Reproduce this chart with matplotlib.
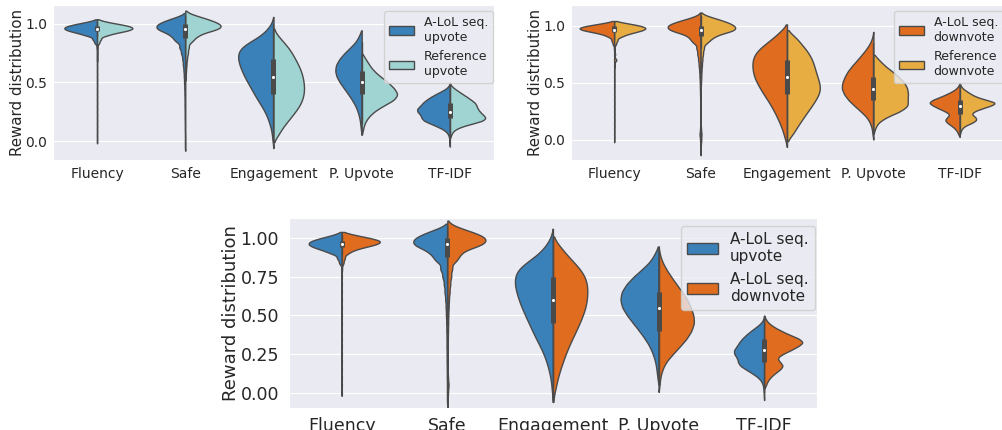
import numpy as np
import matplotlib.pyplot as plt
import seaborn as sns
from matplotlib.patches import Patch

sns.set_style("darkgrid")
plt.rcParams["font.family"] = ["DejaVu Sans"]

METRICS = ["Fluency", "Safe", "Engagement", "P. Upvote", "TF-IDF"]

# reward values at which the responses were counted (one grid per metric)
FLUENCY_VALUES = [0.0, 0.05, 0.1, 0.15, 0.2, 0.25, 0.3, 0.35, 0.4, 0.45, 0.5,
                  0.55, 0.6, 0.65, 0.7, 0.75, 0.8,
                  0.84, 0.87, 0.9, 0.92, 0.94, 0.96, 0.98, 1.0, 1.02]
SAFE_VALUES = [-0.1, -0.05, 0.0, 0.05, 0.1, 0.15, 0.2, 0.25, 0.3, 0.35, 0.4,
               0.45, 0.5, 0.55, 0.6, 0.65, 0.7, 0.75, 0.8, 0.85, 0.88, 0.91,
               0.94, 0.96, 0.98, 1.0, 1.02, 1.04, 1.06, 1.08]
ENGAGEMENT_VALUES = [-0.05, 0.0, 0.05, 0.1, 0.15, 0.2, 0.25, 0.3, 0.35, 0.4,
                     0.45, 0.5, 0.55, 0.6, 0.65, 0.7, 0.75, 0.8, 0.85, 0.9,
                     0.95, 1.0, 1.05]
UPVOTE_VALUES = [0.0, 0.05, 0.1, 0.15, 0.2, 0.25, 0.3, 0.35, 0.4, 0.45, 0.5,
                 0.55, 0.6, 0.65, 0.7, 0.75, 0.8, 0.85, 0.9, 0.95]
TFIDF_VALUES = [-0.05, -0.025, 0.0, 0.025, 0.05, 0.075, 0.1, 0.125, 0.15,
                0.175, 0.2, 0.225, 0.25, 0.275, 0.3, 0.325, 0.35, 0.375, 0.4,
                0.425, 0.45, 0.475, 0.5]

# number of responses at each reward value
ALOL_UP_FLUENCY = [1, 1, 1, 1, 1, 1, 1, 1, 1, 1, 1, 1, 1, 1, 1, 1, 4,
                   24, 40, 68, 110, 172, 208, 192, 128, 52]
REF_UP_FLUENCY = [0, 0, 0, 0, 0, 0, 0, 0, 0, 0, 0, 0, 0, 0, 1, 2, 3,
                  18, 30, 52, 90, 160, 200, 184, 116, 44]
ALOL_DOWN_FLUENCY = [1, 1, 1, 1, 1, 1, 1, 1, 1, 1, 1, 1, 1, 1, 1, 1, 3,
                     14, 24, 36, 60, 120, 196, 224, 160, 70]
REF_DOWN_FLUENCY = [0, 0, 0, 0, 0, 0, 0, 0, 0, 0, 0, 0, 0, 3, 18, 8, 4,
                    14, 24, 36, 60, 104, 152, 172, 136, 68]

ALOL_UP_SAFE = [0, 3, 3, 3, 4, 4, 5, 5, 6, 6, 7, 8, 10, 12, 15, 20, 25, 35, 50,
                60, 60, 87, 105, 100, 107, 100, 80, 55, 34, 0]
REF_UP_SAFE = [0, 0, 0, 0, 0, 0, 0, 0, 0, 0, 0, 0, 0, 2, 4, 6, 9, 14, 18,
               26, 30, 50, 68, 75, 83, 78, 65, 50, 35, 15]
ALOL_DOWN_SAFE = [1, 2, 4, 8, 4, 2, 2, 2, 3, 3, 4, 5, 6, 8, 10, 14, 18, 24, 30,
                  40, 45, 60, 85, 95, 105, 105, 90, 65, 40, 15]
REF_DOWN_SAFE = [0, 1, 3, 4, 2, 0, 0, 0, 0, 0, 0, 0, 2, 3, 4, 6, 8, 11, 15,
                 22, 28, 45, 60, 68, 70, 66, 58, 45, 32, 15]

ALOL_UP_ENGAGEMENT = [0, 3, 4, 7, 12, 18, 26, 36, 48, 58, 68, 78, 88, 96, 103,
                      108, 108, 100, 70, 38, 20, 6, 0]
REF_UP_ENGAGEMENT = [0, 0, 13, 20, 32, 44, 56, 67, 74, 78, 79, 78, 75, 71, 64,
                     56, 48, 38, 25, 11, 0, 0, 0]
ALOL_DOWN_ENGAGEMENT = [0, 5, 10, 15, 22, 30, 38, 48, 58, 70, 80, 90, 98, 102,
                        104, 103, 97, 82, 60, 38, 20, 0, 0]
REF_DOWN_ENGAGEMENT = [0, 0, 17, 24, 35, 45, 56, 67, 77, 86, 90, 87, 82, 77, 73,
                       68, 60, 49, 35, 25, 0, 0, 0]

ALOL_UP_UPVOTE = [0, 0, 3, 5, 8, 14, 22, 34, 48, 63, 78, 90, 95, 92, 80, 62, 40, 20, 9, 0]
REF_UP_UPVOTE = [0, 0, 4, 8, 18, 35, 62, 95, 107, 95, 78, 55, 35, 22, 12, 0, 0, 0, 0, 0]
ALOL_DOWN_UPVOTE = [0, 3, 5, 11, 22, 42, 63, 83, 97, 105, 103, 95, 85, 70, 53, 37, 22, 10, 3, 0]
REF_DOWN_UPVOTE = [0, 0, 4, 11, 32, 68, 88, 85, 87, 85, 78, 64, 47, 28, 14, 0, 0, 0, 0, 0]

ALOL_UP_TFIDF = [0, 1, 1, 2, 4, 9, 20, 38, 58, 78, 84, 86, 96, 97, 87, 80, 70,
                 57, 42, 25, 10, 2, 0]
REF_UP_TFIDF = [0, 0, 0, 0, 4, 8, 18, 40, 75, 110, 118, 108, 98, 91, 87, 83, 70,
                57, 42, 28, 14, 3, 0]
ALOL_DOWN_TFIDF = [0, 0, 0, 0, 4, 7, 13, 22, 33, 40, 32, 26, 38, 55, 70, 82, 72,
                   52, 35, 20, 9, 3, 0]
REF_DOWN_TFIDF = [0, 0, 0, 0, 0, 2, 6, 15, 35, 48, 45, 32, 40, 62, 88, 105, 75,
                  48, 32, 20, 8, 2, 0]

VALUES = [FLUENCY_VALUES, SAFE_VALUES, ENGAGEMENT_VALUES, UPVOTE_VALUES, TFIDF_VALUES]
ALOL_UP = [ALOL_UP_FLUENCY, ALOL_UP_SAFE, ALOL_UP_ENGAGEMENT, ALOL_UP_UPVOTE, ALOL_UP_TFIDF]
REF_UP = [REF_UP_FLUENCY, REF_UP_SAFE, REF_UP_ENGAGEMENT, REF_UP_UPVOTE, REF_UP_TFIDF]
ALOL_DOWN = [ALOL_DOWN_FLUENCY, ALOL_DOWN_SAFE, ALOL_DOWN_ENGAGEMENT, ALOL_DOWN_UPVOTE, ALOL_DOWN_TFIDF]
REF_DOWN = [REF_DOWN_FLUENCY, REF_DOWN_SAFE, REF_DOWN_ENGAGEMENT, REF_DOWN_UPVOTE, REF_DOWN_TFIDF]

# kde bandwidth for each metric
BANDWIDTH = [0.013, 0.022, 0.04, 0.03, 0.015]

BLUE = "#3a80b9"
CYAN = "#9fd4d2"
ORANGE = "#df6c1f"
YELLOW = "#e8ad42"
GRAY = "#4a4a4a"


def kde(values, counts, bw, cut=1.5):
    values = np.asarray(values, float)
    w = np.asarray(counts, float)
    keep = w > 0
    values, w = values[keep], w[keep] / w[keep].sum()
    grid = np.linspace(values.min() - cut * bw, values.max() + cut * bw, 400)
    z = (grid[:, None] - values[None, :]) / bw
    dens = (w * np.exp(-0.5 * z ** 2)).sum(axis=1) / (bw * np.sqrt(2 * np.pi))
    return grid, dens


def draw_panel(ax, left, right, colors, labels, half_width, ylim, yticks,
               tick_size, label_size, legend_size, xpad, ypad, legend_shift):
    for i in range(len(METRICS)):
        vals = VALUES[i]
        y_l, d_l = kde(vals, left[i], BANDWIDTH[i])
        y_r, d_r = kde(vals, right[i], BANDWIDTH[i])
        scale = half_width / max(d_l.max(), d_r.max())
        ax.fill_betweenx(y_l, i - d_l * scale, i, facecolor=colors[0],
                         edgecolor=GRAY, linewidth=1.0)
        ax.fill_betweenx(y_r, i, i + d_r * scale, facecolor=colors[1],
                         edgecolor=GRAY, linewidth=1.0)

        # box of the pooled responses
        obs = np.concatenate([np.repeat(vals, left[i]), np.repeat(vals, right[i])])
        q1, q2, q3 = np.percentile(obs, [25, 50, 75])
        lim = 1.5 * (q3 - q1)
        lo = obs[obs >= q1 - lim].min()
        hi = obs[obs <= q3 + lim].max()
        ax.plot([i, i], [lo, hi], color=GRAY, linewidth=1.0, zorder=3)
        ax.plot([i, i], [q1, q3], color=GRAY, linewidth=3.6,
                solid_capstyle="butt", zorder=3)
        ax.scatter([i], [q2], s=5, color="white", linewidths=0, zorder=4)

    ax.set_xlim(-0.5, len(METRICS) - 0.5)
    ax.set_ylim(*ylim)
    ax.set_xticks(range(len(METRICS)), METRICS)
    ax.set_yticks(yticks)
    ax.grid(False, axis="x")
    ax.tick_params(labelsize=tick_size, length=0, colors=".15")
    ax.tick_params(axis="x", pad=xpad)
    ax.tick_params(axis="y", pad=ypad)
    ax.set_ylabel("Reward distribution", fontsize=label_size, labelpad=0)

    handles = [Patch(facecolor=c, edgecolor=GRAY, linewidth=1.0) for c in colors]
    ax.legend(handles, labels, loc="upper right", fontsize=legend_size,
              bbox_to_anchor=(1 + legend_shift, 1))


fig = plt.figure(figsize=(10.03, 4.30), dpi=100)
ax_up = fig.add_axes([0.0528, 0.6279, 0.4397, 0.3605])
ax_down = fig.add_axes([0.5693, 0.6279, 0.4307, 0.3605])
ax_both = fig.add_axes([0.2881, 0.0512, 0.5264, 0.4419])

draw_panel(ax_up, ALOL_UP, REF_UP, [BLUE, CYAN],
           ["A-LoL seq.\nupvote", "Reference\nupvote"],
           0.4, (-0.162, 1.162), [0.0, 0.5, 1.0], 10, 10.8, 9, 5, 4.3, 0.0125)
draw_panel(ax_down, ALOL_DOWN, REF_DOWN, [ORANGE, YELLOW],
           ["A-LoL seq.\ndownvote", "Reference\ndownvote"],
           0.4, (-0.175, 1.18), [0.0, 0.5, 1.0], 10, 10.8, 9, 5, 4.3, 0.0145)
draw_panel(ax_both, ALOL_UP, ALOL_DOWN, [BLUE, ORANGE],
           ["A-LoL seq.\nupvote", "A-LoL seq.\ndownvote"],
           0.36, (-0.099, 1.13), [0.0, 0.25, 0.5, 0.75, 1.0], 12.5, 13, 11,
           6.5, 7.2, 0.0106)

fig.savefig("out.png", dpi=100)
